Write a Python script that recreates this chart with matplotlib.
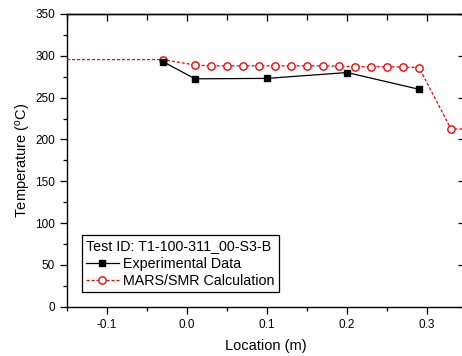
import matplotlib
matplotlib.use("Agg")
import matplotlib.pyplot as plt
from matplotlib.ticker import MultipleLocator, FuncFormatter, NullFormatter

plt.rcParams['font.family'] = ['Liberation Sans', 'DejaVu Sans']
plt.rcParams['mathtext.fontset'] = 'custom'
plt.rcParams['mathtext.rm'] = 'Liberation Sans'

# Experimental data
exp_x = [-0.03, 0.01, 0.10, 0.20, 0.29]
exp_y = [293, 272.5, 273, 280, 260]

# MARS/SMR calculation (end points lie outside the visible range)
calc_x = [-0.20, -0.03, 0.01, 0.03, 0.05, 0.07, 0.09, 0.11, 0.13, 0.15, 0.17,
          0.19, 0.21, 0.23, 0.25, 0.27, 0.29, 0.33, 0.40]
calc_y = [295.5, 295.5, 289, 288, 288, 288, 288, 288, 288, 288, 288,
          287.5, 287, 287, 287, 286.5, 286, 212.5, 212.5]

legend_title = "Test ID: T1-100-311_00-S3-B"
label_exp = "Experimental Data"
label_calc = "MARS/SMR Calculation"

fig = plt.figure(figsize=(4.62, 3.56), dpi=100)
W, H = 462, 356
left, right, top, bottom = 67, 465, 14, 306.7
ax = fig.add_axes([left / W, (H - bottom) / H, (right - left) / W, (bottom - top) / H])

ax.plot(calc_x, calc_y, color='#ff0000', lw=0.9, ls=(0, (2.5, 1.5)),
        marker='o', ms=5.3, mfc='white', mec='#ff0000', mew=1.0,
        label=label_calc, zorder=3)
ax.plot(exp_x, exp_y, color='black', lw=0.9, ls='-',
        marker='s', ms=4.5, mfc='black', mec='black',
        label=label_exp, zorder=4)

ax.set_xlim(-0.15, 0.3475)
ax.set_ylim(0, 350)
ax.xaxis.set_major_locator(MultipleLocator(0.1))
ax.xaxis.set_minor_locator(MultipleLocator(0.05))
ax.yaxis.set_major_locator(MultipleLocator(50))
ax.yaxis.set_minor_locator(MultipleLocator(25))
ax.xaxis.set_major_formatter(FuncFormatter(lambda v, p: ('%.1f' % v).replace('-0.0', '0.0')))

ax.tick_params(axis='both', which='major', length=5, width=0.9, labelsize=8.5,
               colors='black', direction='out')
ax.tick_params(axis='both', which='minor', length=3, width=0.9, direction='out')

# inward ticks on top and right
secx = ax.secondary_xaxis('top')
secx.xaxis.set_major_locator(MultipleLocator(0.1))
secx.xaxis.set_minor_locator(MultipleLocator(0.05))
secx.tick_params(which='major', direction='in', length=5, width=0.9, labeltop=False)
secx.tick_params(which='minor', direction='in', length=4, width=0.9)
secx.xaxis.set_major_formatter(NullFormatter())
secx.spines['top'].set_linewidth(1.0)

secy = ax.secondary_yaxis('right')
secy.yaxis.set_major_locator(MultipleLocator(50))
secy.yaxis.set_minor_locator(MultipleLocator(25))
secy.tick_params(which='major', direction='in', length=5, width=0.9, labelright=False)
secy.tick_params(which='minor', direction='in', length=0, width=0.9)
secy.yaxis.set_major_formatter(NullFormatter())

for s in ax.spines.values():
    s.set_linewidth(1.0)

ax.set_xlabel("Location (m)", fontsize=10.5, labelpad=6)
ax.set_ylabel(r"Temperature ($\mathregular{^o}$C)", fontsize=10.5, labelpad=2)

h, l = ax.get_legend_handles_labels()
leg = ax.legend([h[1], h[0]], [l[1], l[0]], title=legend_title,
                loc='lower left', bbox_to_anchor=(0.037, 0.05),
                fontsize=10.3, title_fontsize=10.3, frameon=True, fancybox=False,
                edgecolor='black', framealpha=1, handlelength=2.3,
                handletextpad=0.3, borderpad=0.3, labelspacing=0.22,
                borderaxespad=0)
leg._legend_box.align = 'left'
leg.get_frame().set_linewidth(0.9)

fig.savefig("out.png", dpi=100)
